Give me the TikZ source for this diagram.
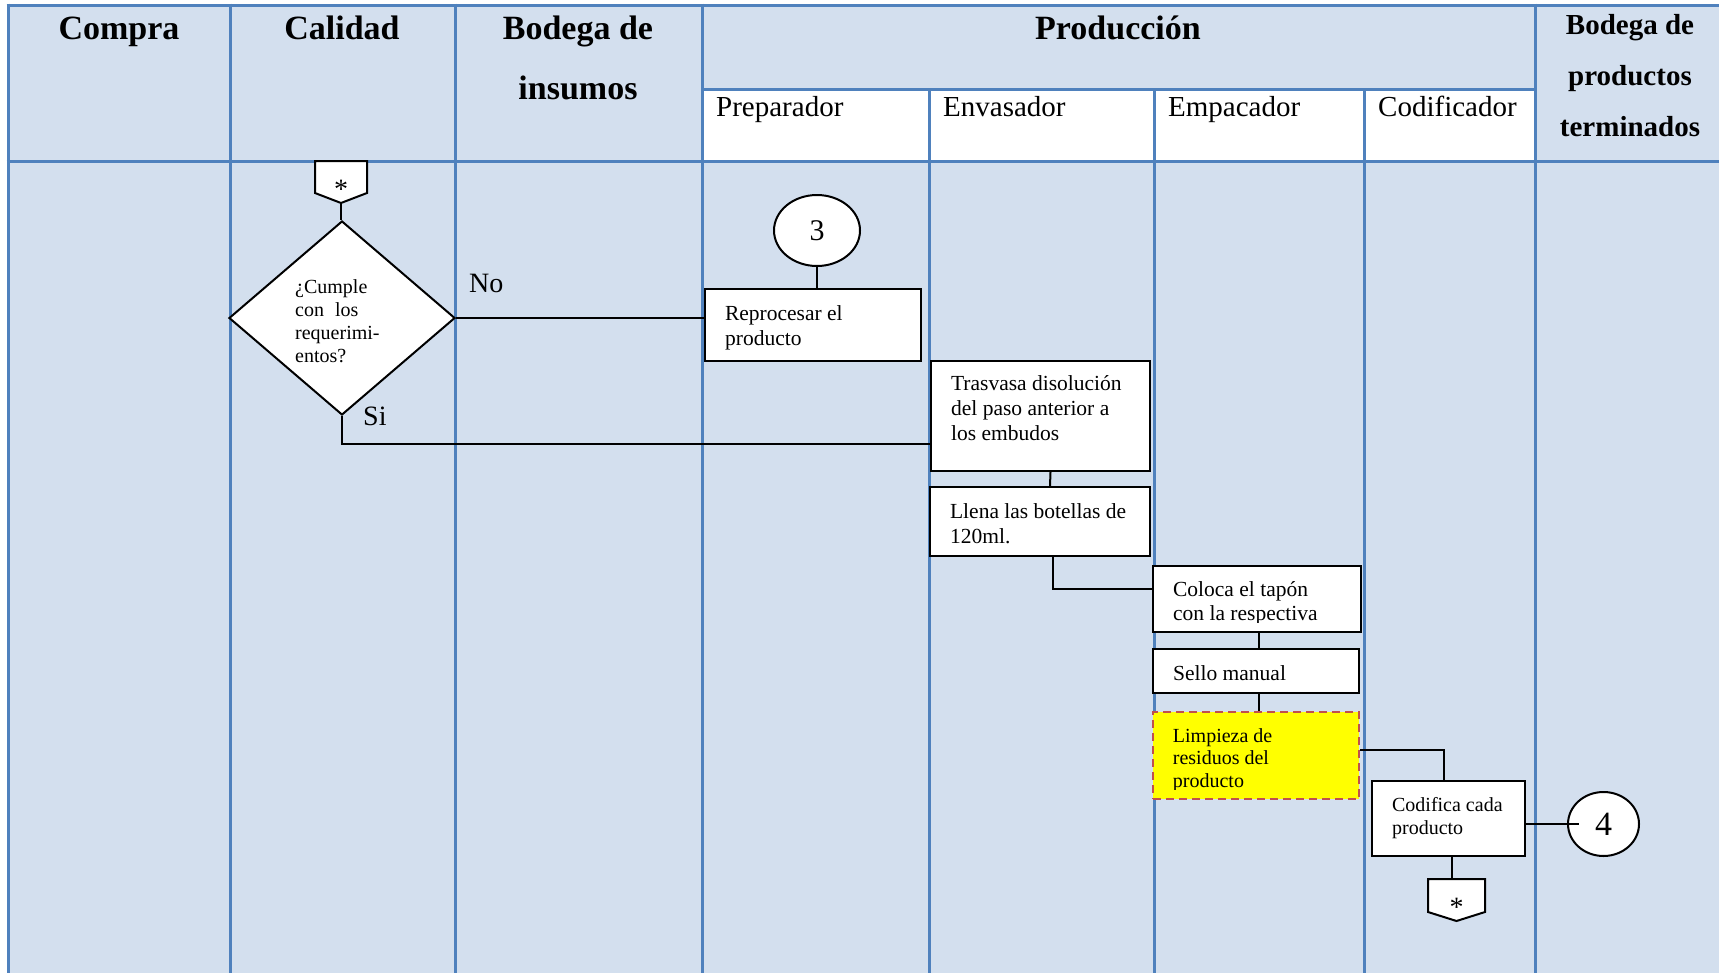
\documentclass[tikz,border=0pt]{standalone}
\usepackage{fontspec}
\setmainfont{Liberation Serif}
\usetikzlibrary{shapes.geometric,calc}

\definecolor{lanefill}{RGB}{211,223,238}
\definecolor{laneline}{RGB}{79,129,189}
\definecolor{dashred}{RGB}{192,80,77}
\definecolor{hilite}{RGB}{255,255,0}

% font size and baseline skip given in points
\newcommand\pxf[2]{\fontsize{#1pt}{#2pt}\selectfont}

\begin{document}
\begin{tikzpicture}[x=1pt,y=-1pt,
  lane/.style={draw=laneline, line width=3pt},
  conn/.style={draw=black, line width=2pt},
  stepbox/.style={draw=black, line width=2.2pt, fill=white, rectangle, inner sep=0pt},
  notebox/.style={draw=dashred, line width=2.6pt, dash pattern=on 8pt off 5pt, fill=hilite, rectangle, inner sep=0pt},
  boxtext/.style={anchor=north west, inner sep=0pt, align=left, font=\pxf{21.5}{24.3}},
  smalltext/.style={boxtext, font=\pxf{20}{22.8}},
  hdr/.style={anchor=base, inner sep=0pt, font=\bfseries\pxf{34}{40}},
  hdrsmall/.style={anchor=base, inner sep=0pt, font=\bfseries\pxf{29}{34}},
  subhdr/.style={anchor=base west, inner sep=0pt, font=\pxf{29}{34}},
  offpage/.style={draw=black, line width=2pt, fill=white, line join=miter},
  opnode/.style={inner sep=0pt, minimum height=42pt, text height=32.4pt, font=\pxf{28}{30}},
  conncircle/.style={ellipse, draw=black, line width=2pt, fill=white, inner sep=0pt},
  branchlbl/.style={anchor=base west, inner sep=0pt, font=\pxf{28}{32}}
]
\useasboundingbox (0,0) rectangle (1719,972);
\fill[white] (0,0) rectangle (1719,972);

% ---------- swimlane table ----------
\fill[lanefill] (8,5) rectangle (1722,975);
\fill[white] (702,89) rectangle (1535,161);
\draw[lane] (6.5,5) -- (1722,5);
\draw[lane] (6.5,161) -- (1722,161);
\draw[lane] (702,89) -- (1535,89);
\foreach \x in {8,230,455,702,1535} \draw[lane] (\x,3.5) -- (\x,975);
\foreach \x in {929,1154,1364} \draw[lane] (\x,89) -- (\x,975);

% lane titles
\node[hdr] (hCompra) at (119,39) {Compra};
\node[hdr] (hCalidad) at (342,39) {Calidad};
\node[hdr] (hBodIa) at (578,39) {Bodega de};
\node[hdr] (hBodIb) at (578,99) {insumos};
\node[hdr] (hProd) at (1118,39) {Producción};
\node[hdrsmall] (hBodPa) at (1630,34) {Bodega de};
\node[hdrsmall] (hBodPb) at (1630,85) {productos};
\node[hdrsmall] (hBodPc) at (1630,136.5) {terminados};
\node[subhdr] (sPrep) at (716,116) {Preparador};
\node[subhdr] (sEnv) at (943,116) {Envasador};
\node[subhdr] (sEmp) at (1168,116) {Empacador};
\node[subhdr] (sCod) at (1378,116) {Codificador};

% ---------- flow ----------
% incoming off-page connector
\draw[offpage, shift={(341,182)}] (-26,-21) -- (26,-21) -- (26,11) -- (0,21) -- (-26,11) -- cycle;
\node[opnode, minimum width=52pt] (opTop) at (341,182) {*};

% decision
\node[diamond, draw=black, line width=2pt, fill=white, minimum width=226pt,
      minimum height=194pt, inner sep=0pt] (dec) at (342,318) {};
\node[smalltext] (decq) at (295,279.8)
  {¿Cumple\\con\hspace{0.55em}los\\requerimi-\\entos?};
\node[branchlbl] (lblNo) at (469,292.5) {No};
\node[branchlbl] (lblSi) at (363,425) {Si};

% reprocessing loop
\node[conncircle, minimum width=86pt, minimum height=71pt, font=\pxf{30}{34}] (c3) at (817,230.5) {3};
\node[stepbox, minimum width=216pt, minimum height=72pt] (b1) at (813,325) {};
\node[boxtext] (b1t) at ([shift={(21,17.8)}]b1.north west) {Reprocesar el\\producto};

% filling
\node[stepbox, minimum width=219pt, minimum height=110pt] (b2) at (1040.5,416) {};
\node[boxtext, font=\pxf{21.5}{24.7}] (b2t) at ([shift={(21,15.7)}]b2.north west)
  {Trasvasa disolución\\del paso anterior a\\los embudos};
\node[stepbox, minimum width=220pt, minimum height=69pt] (b3) at (1040,521.5) {};
\node[boxtext] (b3t) at ([shift={(21,17.8)}]b3.north west) {Llena las botellas de\\120ml.};

% packing
\node[stepbox, minimum width=208pt, minimum height=66pt] (b4) at (1257,599) {};
\begin{scope}
  \clip (b4.north west) rectangle ([yshift=11pt]b4.south east);
  \node[boxtext] (b4t) at ([shift={(21,16.6)}]b4.north west) {Coloca el tapón\\con la respectiva};
\end{scope}
\node[stepbox, minimum width=206pt, minimum height=44pt] (b5) at (1256,671) {};
\node[boxtext] (b5t) at ([shift={(21,17.3)}]b5.north west) {Sello manual};
\node[notebox, minimum width=206pt, minimum height=87pt] (b6) at (1256,755.5) {};
\begin{scope}
  \clip (b6.north west) rectangle ([yshift=11pt]b6.south east);
  \node[smalltext, font=\pxf{20}{22.5}] (b6t) at ([shift={(21,17.3)}]b6.north west)
    {Limpieza de\\residuos del\\producto};
\end{scope}

% coding
\node[stepbox, minimum width=153pt, minimum height=75pt] (b7) at (1448.5,818.5) {};
\node[smalltext, font=\pxf{20}{23}] (b7t) at ([shift={(21,17.2)}]b7.north west) {Codifica cada\\producto};
\node[conncircle, minimum width=71pt, minimum height=64pt, font=\pxf{34}{38}] (c4) at (1603.5,824) {4};

% outgoing off-page connector
\draw[offpage, shift={(1456.5,900)}] (-28.5,-21) -- (28.5,-21) -- (28.5,12) -- (0,21) -- (-28.5,12) -- cycle;
\node[opnode, minimum width=57pt] (opBot) at (1456.5,900) {*};

% ---------- connectors ----------
\draw[conn] (opTop.south) -- (opTop.south |- dec.north);
\draw[conn] (dec.east) -- (dec.east -| b1.west);
\draw[conn] (dec.south) |- ([yshift=28pt]b2.south west);
\draw[conn] (c3.south) -- (c3.south |- b1.north);
\draw[conn] ([xshift=10pt]b2.south) -- ([xshift=10pt]b3.north);
\draw[conn] ([xshift=13pt]b3.south) |- ([yshift=10.5pt]b4.west);
\draw[conn] ([xshift=2pt]b4.south) -- ([xshift=2pt]b4.south |- b5.north);
\draw[conn] ([xshift=3pt]b5.south) -- ([xshift=3pt]b6.north);
\draw[conn] ([yshift=6pt]b6.east) -| ([xshift=-4.5pt]b7.north);
\draw[conn] (b7.east |- c4) -- ([xshift=12pt]c4.west);
\draw[conn] ([xshift=3pt]b7.south) -- ([xshift=3pt]b7.south |- opBot.north);
\end{tikzpicture}
\end{document}
